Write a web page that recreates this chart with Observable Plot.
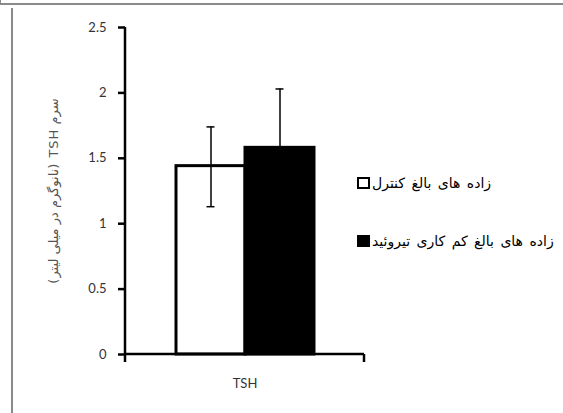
<!DOCTYPE html>
<html>
<head>
<meta charset="utf-8">
<script src="https://cdn.jsdelivr.net/npm/d3@7"></script>
<script src="https://cdn.jsdelivr.net/npm/@observablehq/plot@0.6"></script>
<style>
  html, body { margin: 0; padding: 0; background: #fff; }
  #wrap { position: relative; width: 563px; height: 413px; overflow: hidden; }
  #topline { position: absolute; left: 0; top: -4px; width: 563px; height: 9px; border-left: 1px solid #8a8a8a; border-bottom: 2px solid #8a8a8a; box-sizing: border-box; }
  #leftline { position: absolute; left: 11px; top: 8px; width: 0; height: 420px; border-left: 2px solid #8a8a8a; }
  #legend { position: absolute; left: 357px; top: 0; font-family: "DejaVu Sans", sans-serif; font-size: 14px; word-spacing: 2px; color: #000; }
  .item { position: absolute; left: 0; display: flex; align-items: center; white-space: nowrap; }
  .sw { width: 9px; height: 8px; border: 2px solid #000; margin-right: 2px; }
  .lab { direction: rtl; }
  #chart { position: absolute; left: 0; top: 0; }
</style>
</head>
<body>
<div id="wrap">
  <div id="chart"></div>
  <div id="topline"></div>
  <div id="leftline"></div>
  <div id="legend"></div>
</div>
<script>
// ---- data ----
const category = ["TSH"];
const groups = ["زاده های بالغ کنترل", "زاده های بالغ کم کاری تیروئید"];
const means = [1.44, 1.58];
const errLow = [1.13, 1.13];
const errHigh = [1.74, 2.03];
const groupFills = ["white", "black"];
const yTicks = [0, 0.5, 1, 1.5, 2, 2.5];
const yLabel = "سرم TSH (نانوگرم در میلی لیتر)";

const rows = groups.map((g, i) => ({cat: category[0], group: g, mean: means[i], lo: errLow[i], hi: errHigh[i]}));

// custom axis lines drawn from the scales and facet dimensions
function axisLines(index, scales, values, dimensions) {
  const y = scales.y;
  const x0 = dimensions.marginLeft;
  const x1 = dimensions.width - dimensions.marginRight;
  const g = d3.create("svg:g").attr("stroke", "black").attr("stroke-width", 2.5);
  g.append("line").attr("x1", x0).attr("x2", x0).attr("y1", y(yTicks[yTicks.length - 1])).attr("y2", y(0) + 8);
  g.append("line").attr("x1", x0).attr("x2", x1).attr("y1", y(0)).attr("y2", y(0));
  g.append("line").attr("x1", x1).attr("x2", x1).attr("y1", y(0)).attr("y2", y(0) + 8);
  return g.node();
}

const chart = Plot.plot({
  width: 563,
  height: 413,
  marginLeft: 125,
  marginRight: 199,
  marginTop: 27,
  marginBottom: 59,
  style: {fontFamily: "Lato, sans-serif", fontSize: "13px", color: "#333", background: "transparent"},
  fx: {domain: category, padding: 0, label: null, axis: null},
  x: {domain: groups, paddingInner: 0, paddingOuter: 0.73, axis: null},
  y: {domain: [0, 2.5], axis: null},
  color: {domain: groups, range: groupFills},
  marks: [
    Plot.barY(rows, {fx: "cat", x: "group", y: "mean", fill: "group", stroke: "black", strokeWidth: 3}),
    Plot.ruleX(rows, {fx: "cat", x: "group", y1: "lo", y2: "hi", stroke: "black", strokeWidth: 1.5}),
    Plot.tickY(rows, {fx: "cat", x: "group", y: "hi", stroke: "black", strokeWidth: 1.5, insetLeft: 30.5, insetRight: 30.5}),
    Plot.tickY(rows, {fx: "cat", x: "group", y: "lo", stroke: "black", strokeWidth: 1.5, insetLeft: 30.5, insetRight: 30.5}),
    Plot.axisY({ticks: yTicks, tickSize: 7, tickPadding: 12, tickFormat: d => String(d), stroke: "black", strokeWidth: 2.5,
      label: yLabel, labelAnchor: "center", labelOffset: 77, labelArrow: "none", fontSize: 13}),
    Plot.axisFx({anchor: "bottom", tickSize: 0, tickPadding: 24, label: null, fontSize: 13}),
    axisLines
  ]
});
document.getElementById("chart").appendChild(chart);

// style the y-axis label (right-to-left text)
chart.querySelectorAll("text").forEach(t => {
  if (t.textContent === yLabel) {
    t.setAttribute("font-family", "DejaVu Sans, sans-serif");
    t.setAttribute("font-size", "13");
    t.setAttribute("fill", "#555");
    t.setAttribute("direction", "rtl");
    t.style.direction = "rtl";
    t.style.unicodeBidi = "embed";
    t.style.letterSpacing = "1px";
  }
});

// legend
const legendTops = [175, 233];
const legend = document.getElementById("legend");
groups.forEach((g, i) => {
  const item = document.createElement("div");
  item.className = "item";
  item.style.top = legendTops[i] + "px";
  const sw = document.createElement("div");
  sw.className = "sw";
  sw.style.background = groupFills[i];
  const lab = document.createElement("span");
  lab.className = "lab";
  lab.textContent = g;
  item.appendChild(sw);
  item.appendChild(lab);
  legend.appendChild(item);
});
</script>
</body>
</html>
